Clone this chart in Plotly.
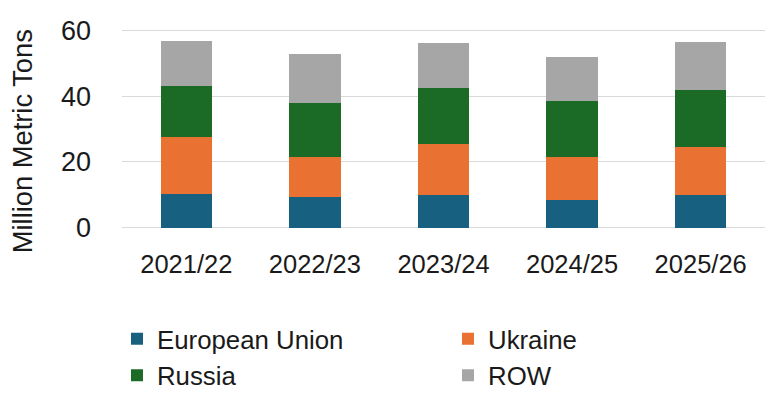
import plotly.graph_objects as go

years = ["2021/22", "2022/23", "2023/24", "2024/25", "2025/26"]
eu = [10.2, 9.3, 9.9, 8.4, 9.9]
ukraine = [17.5, 12.3, 15.6, 13.1, 14.5]
russia = [15.5, 16.2, 17.0, 16.9, 17.4]
row = [13.6, 14.9, 13.5, 13.4, 14.5]

series = [
    ("European Union", eu, "#17607F", "legend"),
    ("Ukraine", ukraine, "#E97132", "legend2"),
    ("Russia", russia, "#1B6B26", "legend"),
    ("ROW", row, "#A6A6A6", "legend2"),
]

FONT = "Liberation Sans, Arial, sans-serif"

fig = go.Figure()
for name, vals, color, lg in series:
    fig.add_trace(go.Bar(
        x=years, y=vals, name=name,
        marker=dict(color=color, line=dict(width=0)),
        legend=lg,
    ))

# page body has an 8px margin, so the figure is sized/offset to fit the 776x393 window
fig.update_layout(
    width=768, height=385,
    barmode="stack", bargap=0.6,
    plot_bgcolor="white", paper_bgcolor="white",
    margin=dict(l=114, r=11, t=20.68, b=163.68, autoexpand=False),
    font=dict(family=FONT, size=26, color="#1a1a1a"),
    xaxis=dict(showgrid=False, showline=False, ticks="", ticklabelstandoff=17,
               tickfont=dict(size=25.5)),
    yaxis=dict(range=[-0.4, 60.4], tickvals=[0, 20, 40, 60], showgrid=True,
               gridcolor="#D9D9D9", gridwidth=1.3, zeroline=False, showline=False,
               ticks="", ticklabelstandoff=30, tickfont=dict(size=27)),
    legend=dict(x=-0.0078, xanchor="left", y=-0.432, yanchor="top",
                font=dict(size=25.8), bgcolor="rgba(0,0,0,0)", traceorder="normal"),
    legend2=dict(x=0.507, xanchor="left", y=-0.432, yanchor="top",
                 font=dict(size=25.8), bgcolor="rgba(0,0,0,0)", traceorder="normal"),
    annotations=[dict(text="Million Metric Tons", textangle=-90, xref="paper", yref="paper",
                      x=-0.1555, y=0.439, xanchor="center", yanchor="middle",
                      showarrow=False, font=dict(size=27.3))],
)

fig.write_html("out.html")
